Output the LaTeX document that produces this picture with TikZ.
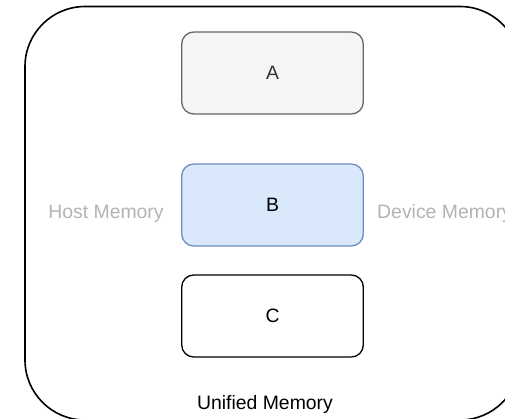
\documentclass[tikz,border=0pt]{standalone}
\usepackage{fontspec}
\setmainfont{Liberation Sans}
\begin{document}
\begin{tikzpicture}[x=1pt,y=-1pt,
  memblock/.style={draw, rounded corners=12pt, minimum width=181.6pt,
    minimum height=82pt, inner sep=0pt, line width=1.3pt,
    font=\fontsize{19.4}{22}\selectfont},
  sidelabel/.style={anchor=base, inner sep=0pt, text=labelgray,
    font=\fontsize{19.4}{22}\selectfont},
]
\definecolor{labelgray}{HTML}{B3B3B3}
\definecolor{grayfill}{HTML}{F5F5F5}
\definecolor{graystroke}{HTML}{666666}
\definecolor{graytext}{HTML}{333333}
\definecolor{bluefill}{HTML}{DAE8FC}
\definecolor{bluestroke}{HTML}{6C8EBF}
\useasboundingbox (0,0) rectangle (505,418);
\clip (0,0) rectangle (505,418);

% unified memory region
\draw[line width=1.6pt, rounded corners=60pt] (25,6.5) rectangle (520,420);

% memory blocks
\node[memblock, fill=grayfill, draw=graystroke, text=graytext] (a) at (272.5,73) {A};
\node[memblock, fill=bluefill, draw=bluestroke] (b) at (272.5,205) {B};
\node[memblock, fill=white, draw=black] (c) at (272.5,316) {C};

% labels
\node[sidelabel] (host) at (106,218) {Host Memory};
\node[sidelabel, anchor=base west] (dev) at (377,218) {Device Memory};
\node[anchor=base, inner sep=0pt, font=\fontsize{19.4}{22}\selectfont] (uni) at (265,409) {Unified Memory};
\end{tikzpicture}
\end{document}
